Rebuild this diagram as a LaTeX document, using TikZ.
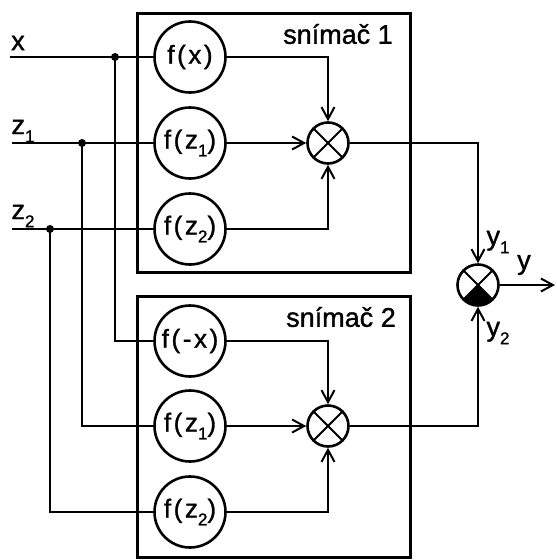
\documentclass[tikz,border=0pt]{standalone}
\usepackage{fontspec}
\setmainfont{Liberation Sans}[FakeBold=1.2]
\newfontfamily\circfont{Liberation Sans}[FakeBold=1.2,LetterSpace=10]
\usetikzlibrary{arrows.meta}
\newcommand\lsub[1]{\raisebox{-0.3em}{\fontsize{17}{17}\selectfont #1}}
\begin{document}
\begin{tikzpicture}[x=1pt,y=-1pt,
  wire/.style={line width=2pt},
  arr/.style={wire,-{Straight Barb[length=12pt,width=13pt,line width=2pt]}},
  fn/.style={circle,draw,line width=2.6pt,minimum size=71pt,inner sep=0pt,font=\circfont\fontsize{26}{26}\selectfont},
  mult/.style={circle,draw,line width=2.6pt,minimum size=41pt,inner sep=0pt,
    path picture={\draw[line width=2pt] (path picture bounding box.north west)--(path picture bounding box.south east) (path picture bounding box.north east)--(path picture bounding box.south west);}},
  final/.style={circle,draw,line width=2.6pt,minimum size=41pt,inner sep=0pt,
    path picture={\fill (path picture bounding box.center)--(path picture bounding box.south west)--(path picture bounding box.south east)--cycle;
      \draw[line width=2pt] (path picture bounding box.north west)--(path picture bounding box.south east) (path picture bounding box.north east)--(path picture bounding box.south west);}},
  box/.style={draw,line width=3pt,inner sep=0pt,minimum width=273pt},
  lbl/.style={font=\fontsize{27}{27}\selectfont,inner sep=0pt},
  dot/.style={circle,fill,inner sep=0pt,minimum size=8pt}
]
\useasboundingbox (0,0) rectangle (557,560);
% boxes
\node[box,minimum height=259pt] (b1) at (274,142.5) {};
\node[box,minimum height=261pt] (b2) at (274,426.5) {};
\node[lbl] (t1) at (338,34) {snímač 1};
\node[lbl] (t2) at (341,317) {snímač 2};
% function circles
\node[fn] (fx) at (190,57) {f(x)};
\node[fn] (fz1) at (190,143) {f(z\lsub{1})};
\node[fn] (fz2) at (190,229) {f(z\lsub{2})};
\node[fn] (fmx) at (190,341) {f(-x)};
\node[fn] (gz1) at (190,426) {f(z\lsub{1})};
\node[fn] (gz2) at (190,512) {f(z\lsub{2})};
% multipliers
\node[mult] (m1) at (328,143) {};
\node[mult] (m2) at (328,426) {};
\node[final] (fin) at (478,285) {};
% inputs
\coordinate (xin) at (10,57);
\coordinate (z1in) at (12,143);
\coordinate (z2in) at (12,229);
\node[lbl] (lx) at (18,43) {x};
\node[lbl] (lz1) at (23,131) {z\lsub{1}};
\node[lbl] (lz2) at (23,216) {z\lsub{2}};
\node[dot] (jx) at (115,57) {};
\node[dot] (jz1) at (82,143) {};
\node[dot] (jz2) at (50,229) {};
\draw[wire] (xin) -- (fx);
\draw[wire] (z1in) -- (fz1);
\draw[wire] (z2in) -- (fz2);
\draw[wire] (jx.center) |- (fmx);
\draw[wire] (jz1.center) |- (gz1);
\draw[wire] (jz2.center) |- (gz2);
% into multipliers
\draw[arr] (fx) -| (m1);
\draw[arr] (fz1) -- (m1);
\draw[arr] (fz2) -| (m1);
\draw[arr] (fmx) -| (m2);
\draw[arr] (gz1) -- (m2);
\draw[arr] (gz2) -| (m2);
% outputs
\draw[arr] (m1) -| (fin);
\draw[arr] (m2) -| (fin);
\coordinate (yout) at (555,285);
\draw[arr] (fin) -- (yout);
\node[lbl] (ly1) at (498,242) {y\lsub{1}};
\node[lbl] (ly) at (524,265) {y};
\node[lbl] (ly2) at (498,333) {y\lsub{2}};
\end{tikzpicture}
\end{document}
